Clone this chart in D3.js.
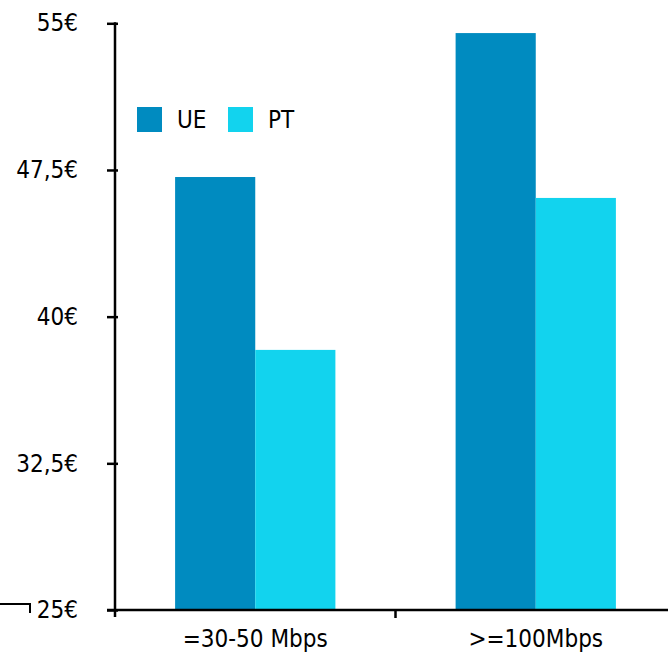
<!DOCTYPE html>
<html>
<head>
<meta charset="utf-8">
<script src="https://cdn.jsdelivr.net/npm/d3@7"></script>
<style>
  html, body { margin: 0; padding: 0; background: #fff; }
  svg { display: block; }
  text { font-family: "DejaVu Sans Condensed", "DejaVu Sans", sans-serif; fill: #000; }
</style>
</head>
<body>
<svg id="chart" width="668" height="654"></svg>
<script>
// Price per speed band, EU average vs Portugal
const categories = ["=30-50 Mbps", ">=100Mbps"];
const seriesNames = ["UE", "PT"];
const ueValues = [47.14, 54.5];
const ptValues = [38.3, 46.07];
const yTicks = [25, 32.5, 40, 47.5, 55];
const yTickLabels = ["25€", "32,5€", "40€", "47,5€", "55€"];
const colors = ["#008bc0", "#12d3ee"];

const svg = d3.select("#chart");
const W = 668, H = 654;
const axisX = 115, axisY = 610;
const fontSize = 24;

const y = d3.scaleLinear().domain([25, 55]).range([axisY, 23.3]);
const x = d3.scaleBand().domain(categories).range([axisX, axisX + 561]).paddingInner(0).paddingOuter(0);
const xs = d3.scaleBand().domain(seriesNames).range([0, x.bandwidth()]).paddingInner(0).paddingOuter(0.75);
const color = d3.scaleOrdinal().domain(seriesNames).range(colors);

const rows = categories.map((c, i) => ({ cat: c, vals: [
  { s: "UE", v: ueValues[i] },
  { s: "PT", v: ptValues[i] }
]}));

// bars
svg.append("g").selectAll("g").data(rows).join("g")
  .attr("transform", d => `translate(${x(d.cat)},0)`)
  .selectAll("rect").data(d => d.vals).join("rect")
  .attr("x", d => xs(d.s))
  .attr("width", xs.bandwidth())
  .attr("y", d => y(d.v))
  .attr("height", d => y(25) - y(d.v))
  .attr("fill", d => color(d.s));

// y axis
const yAxis = d3.axisLeft(y).tickValues(yTicks)
  .tickFormat((d, i) => yTickLabels[i]).tickSize(8).tickPadding(29);
const gy = svg.append("g").attr("transform", `translate(${axisX},0)`).call(yAxis);
gy.select(".domain").remove();
gy.selectAll(".tick line").attr("stroke", "#000").attr("stroke-width", 2.5).attr("x2", 3).attr("x1", -8);
gy.selectAll(".tick text").attr("font-size", fontSize).attr("font-family", "DejaVu Sans Condensed").attr("fill", "#000");
gy.append("line").attr("x1", 0).attr("x2", 0).attr("y1", y(55) - 1).attr("y2", axisY + 7)
  .attr("stroke", "#000").attr("stroke-width", 2.5);

// x axis
const xAxis = d3.axisBottom(x).tickSize(0).tickPadding(20);
const gx = svg.append("g").attr("transform", `translate(0,${axisY})`).call(xAxis);
gx.select(".domain").remove();
gx.selectAll(".tick text").attr("font-size", fontSize).attr("font-family", "DejaVu Sans Condensed").attr("fill", "#000");
gx.append("line").attr("x1", axisX - 8).attr("x2", W + 10).attr("y1", 0).attr("y2", 0)
  .attr("stroke", "#000").attr("stroke-width", 2.5);
// separators between categories
gx.selectAll("line.sep").data(categories.slice(1)).join("line").attr("class", "sep")
  .attr("x1", d => x(d)).attr("x2", d => x(d)).attr("y1", 0).attr("y2", 8)
  .attr("stroke", "#000").attr("stroke-width", 2.5);

// small bracket stroke left of the baseline label
svg.append("path").attr("d", `M0,604H30V613`).attr("fill", "none").attr("stroke", "#000").attr("stroke-width", 2);

// legend
const legend = svg.append("g").attr("transform", "translate(137,107)");
const li = legend.selectAll("g").data(seriesNames).join("g")
  .attr("transform", (d, i) => `translate(${i * 91},0)`);
li.append("rect").attr("width", 25).attr("height", 25).attr("fill", d => color(d));
li.append("text").attr("x", 40).attr("y", 21).attr("font-size", fontSize).text(d => d);
</script>
</body>
</html>
